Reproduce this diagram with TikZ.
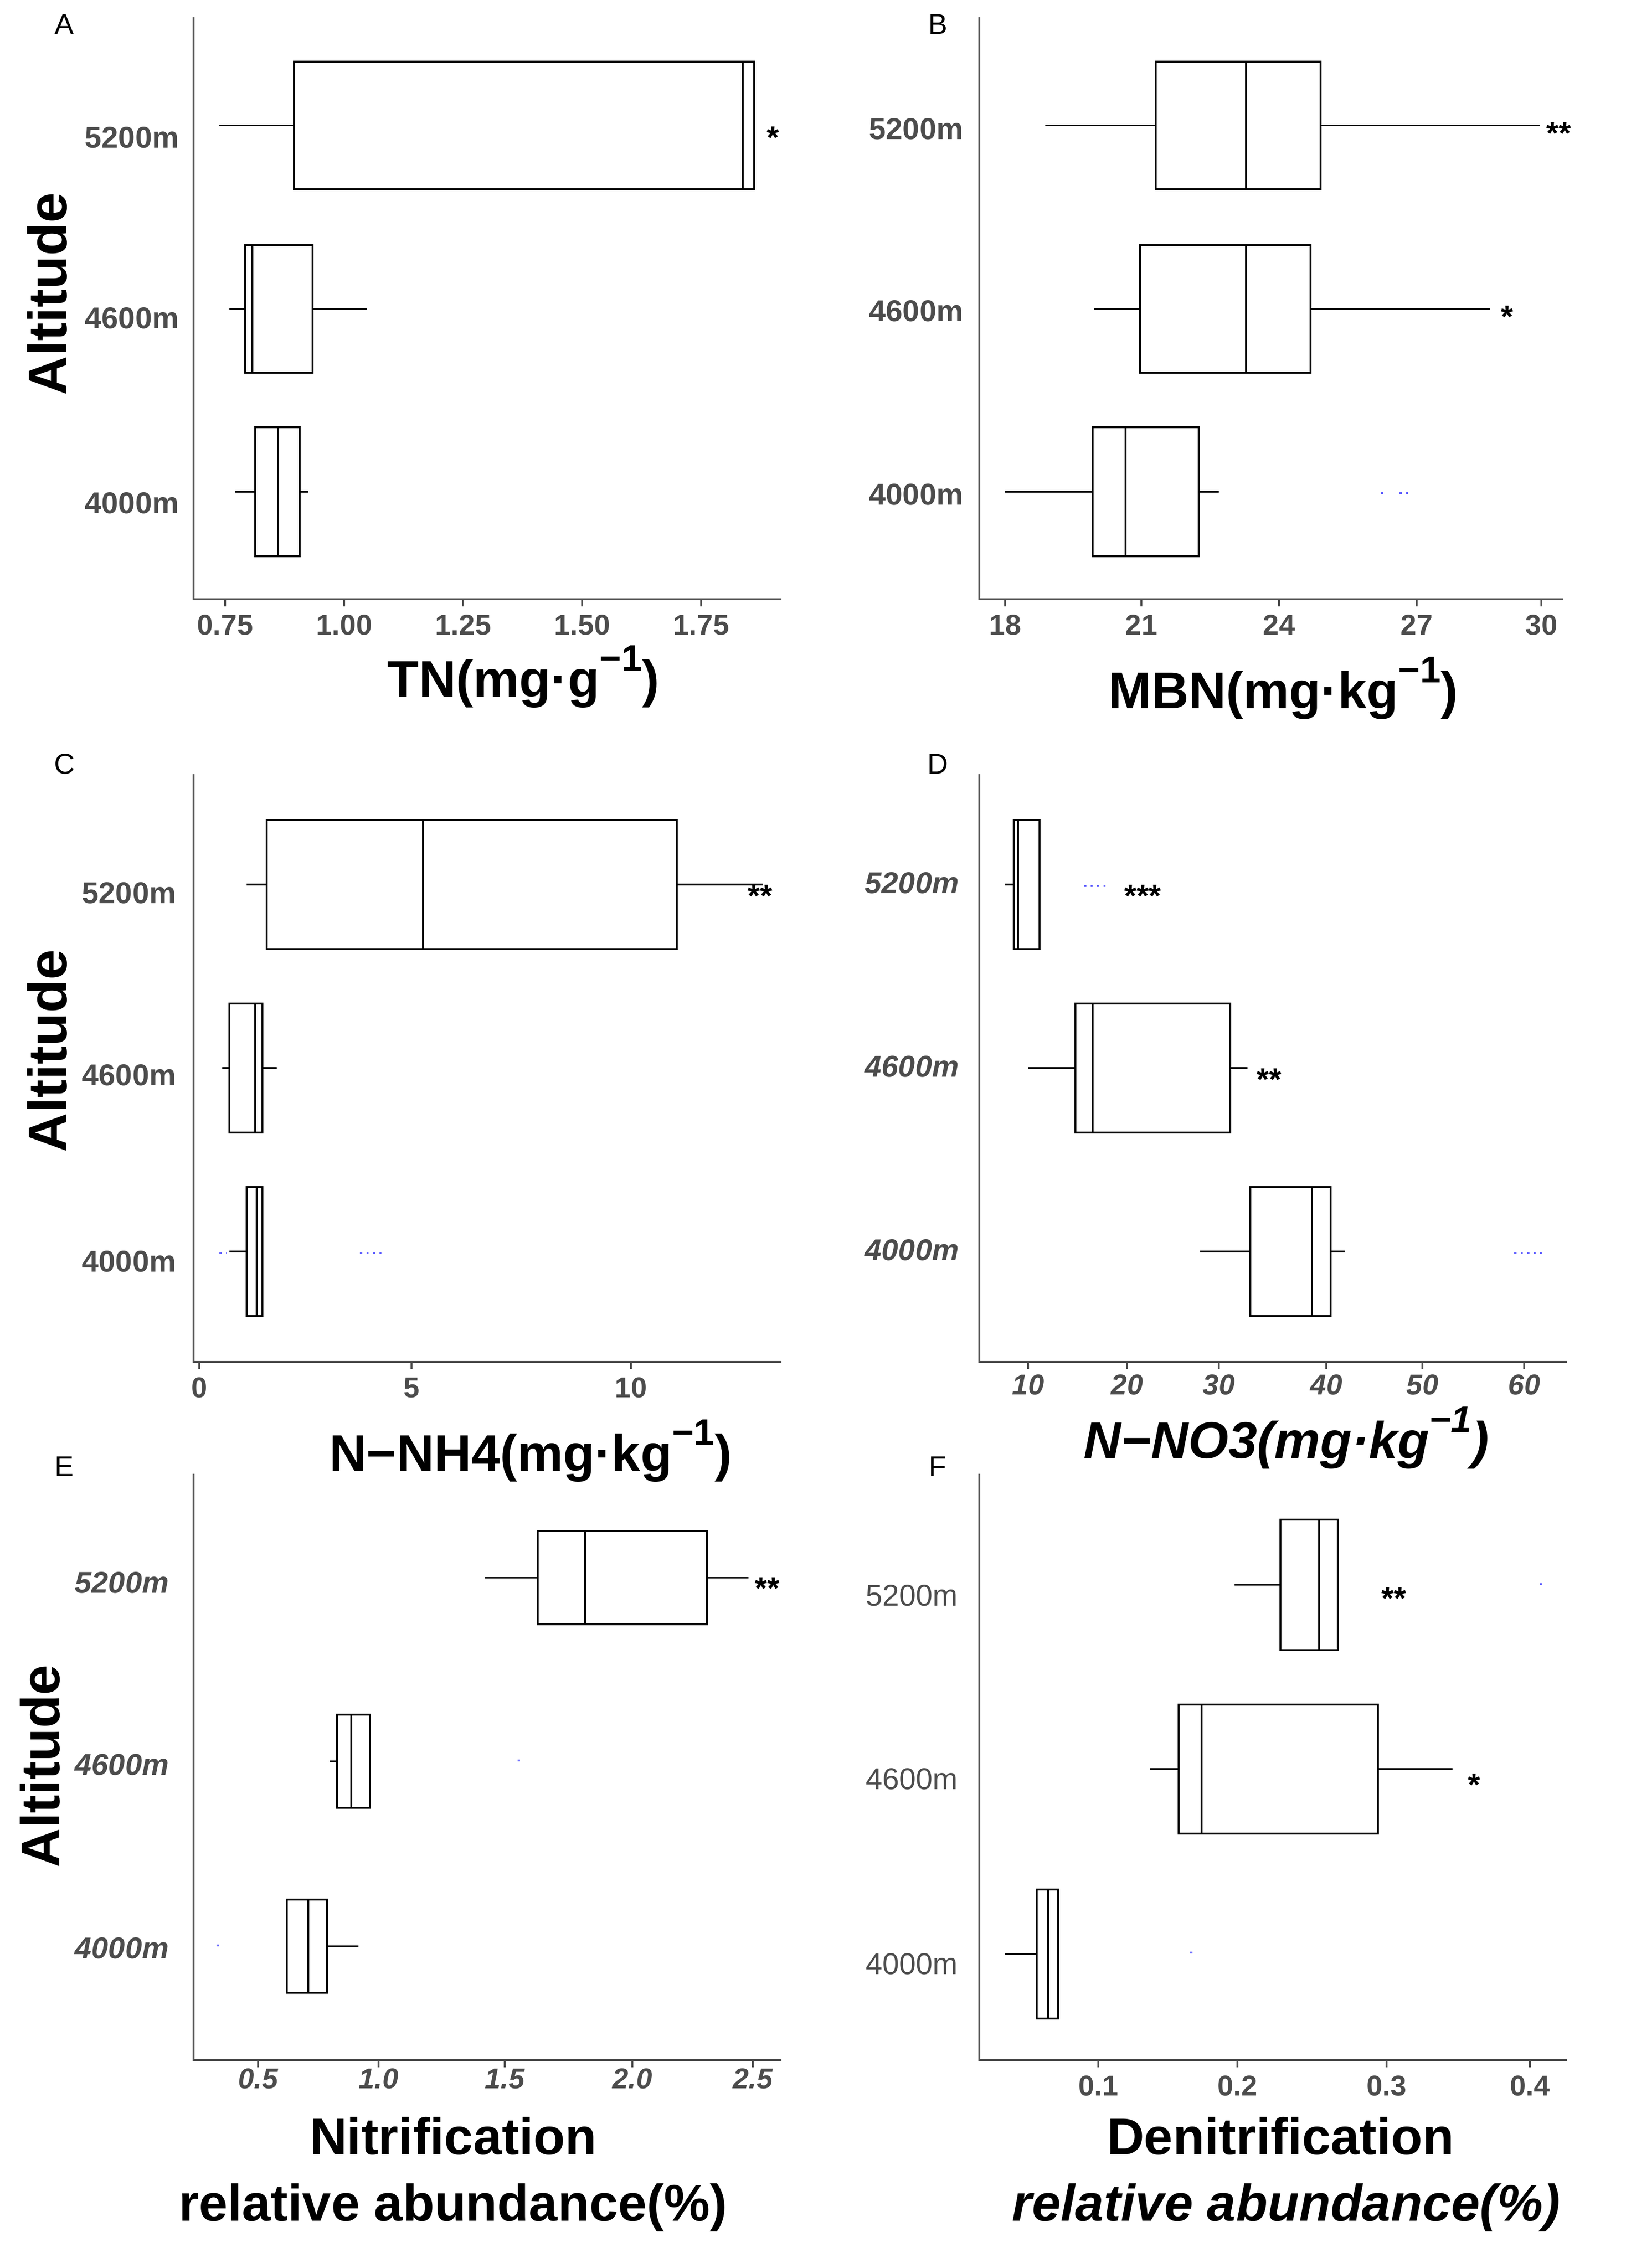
\documentclass[tikz,border=0pt]{standalone}
\usepackage{fontspec}
\setmainfont{Liberation Sans}
\newcommand\mysup[1]{\raisebox{0.5em}{\fontsize{26}{30}\selectfont #1}}
\begin{document}
\begin{tikzpicture}[x=1pt,y=-1pt,line width=1.1pt,
  ax/.style={draw=black!70,line width=1.2pt},
  tk/.style={font=\fontsize{20}{24}\selectfont\bfseries,text=black!70},
  yl/.style={font=\fontsize{21}{25}\selectfont\bfseries,text=black!70},
  xt/.style={font=\fontsize{36}{42}\selectfont\bfseries},
  alt/.style={font=\fontsize{38}{44}\selectfont\bfseries,rotate=90},
  pl/.style={font=\fontsize{20}{24}\selectfont},
  st/.style={font=\fontsize{22}{24}\selectfont\bfseries},
  od/.style={blue!60,line width=1.6pt,dash pattern=on 1.5pt off 3pt}]
\newcommand\mybox[7]{\draw (#3,{(#1+#2)/2}) -- (#4,{(#1+#2)/2}) (#6,{(#1+#2)/2}) -- (#7,{(#1+#2)/2});
  \draw (#4,#1) rectangle (#6,#2); \draw (#5,#1) -- (#5,#2);}
\useasboundingbox (0,0) rectangle (1134,1582);
% ---------- A
\draw[ax] (135,12) -- (135,418) -- (545,418);
\foreach \x/\l in {157/0.75,240/1.00,323/1.25,406/1.50,489/1.75}{\draw[ax] (\x,418)--(\x,423); \node[tk] at (\x,436) {\l};}
\node[pl] at (45,17) {A};
\node[alt] at (33,205) {Altitude};
\node[yl] at (92,96) {5200m}; \node[yl] at (92,222) {4600m}; \node[yl] at (92,351) {4000m};
\mybox{43}{132}{153}{205}{518}{526}{526}
\mybox{171}{260}{160}{171}{176}{218}{256}
\mybox{298}{388}{164}{178}{194}{209}{215}
\node[st] at (539,96) {*};
\node[xt] at (365,472) {TN(mg·g\mysup{−1})};
% ---------- B
\draw[ax] (683,12) -- (683,418) -- (1090,418);
\foreach \x/\l in {701/18,796/21,892/24,988/27,1075/30}{\draw[ax] (\x,418)--(\x,423); \node[tk] at (\x,436) {\l};}
\node[pl] at (654,17) {B};
\node[yl] at (639,90) {5200m}; \node[yl] at (639,217) {4600m}; \node[yl] at (639,345) {4000m};
\mybox{43}{132}{729}{806}{869}{921}{1074}
\mybox{171}{260}{763}{795}{869}{914}{1039}
\mybox{298}{388}{701}{762}{785}{836}{850}
\draw[od] (963,344) -- (967,344) (976,344)--(983,344);
\node[st] at (1087,93) {**}; \node[st] at (1051,221) {*};
\node[xt] at (895,480) {MBN(mg·kg\mysup{−1})};
% ---------- C
\draw[ax] (135,540) -- (135,950) -- (545,950);
\foreach \x/\l in {139/0,287/5,440/10}{\draw[ax] (\x,950)--(\x,955); \node[tk] at (\x,968) {\l};}
\node[pl] at (45,533) {C};
\node[alt] at (33,733) {Altitude};
\node[yl] at (90,623) {5200m}; \node[yl] at (90,750) {4600m}; \node[yl] at (90,880) {4000m};
\mybox{572}{662}{172}{186}{295}{472}{532}
\mybox{700}{790}{155}{160}{178}{183}{193}
\mybox{828}{918}{160}{172}{179}{183}{183}
\draw[od] (153,874)--(158,874) (251,874)--(268,874);
\node[st] at (530,625) {**};
\node[xt] at (370,1012) {N−NH4(mg·kg\mysup{−1})};
% ---------- D
\draw[ax] (683,540) -- (683,950) -- (1093,950);
\foreach \x/\l in {717/10,786/20,850/30,925/40,992/50,1063/60}{\draw[ax] (\x,950)--(\x,955); \node[tk,font=\fontsize{20}{24}\selectfont\bfseries\itshape] at (\x,966) {\l};}
\node[pl] at (654,533) {D};
\node[yl,font=\fontsize{21}{25}\selectfont\bfseries\itshape] at (636,616) {5200m};
\node[yl,font=\fontsize{21}{25}\selectfont\bfseries\itshape] at (636,744) {4600m};
\node[yl,font=\fontsize{21}{25}\selectfont\bfseries\itshape] at (636,872) {4000m};
\mybox{572}{662}{701}{707}{710}{725}{725}
\mybox{700}{790}{717}{750}{762}{858}{870}
\mybox{828}{918}{837}{872}{915}{928}{938}
\draw[od] (756,618)--(774,618) (1056,874)--(1077,874);
\node[st] at (797,625) {***}; \node[st] at (885,753) {**};
\node[xt,font=\fontsize{36}{42}\selectfont\bfseries\itshape] at (897,1003) {N−NO3(mg·kg\mysup{−1})};
% ---------- E
\draw[ax] (135,1028) -- (135,1437) -- (545,1437);
\foreach \x/\l in {180/0.5,264/1.0,352/1.5,441/2.0,525/2.5}{\draw[ax] (\x,1437)--(\x,1442); \node[tk,font=\fontsize{20}{24}\selectfont\bfseries\itshape] at (\x,1450) {\l};}
\node[pl] at (45,1023) {E};
\node[alt] at (28,1232) {Altitude};
\node[yl,font=\fontsize{21}{25}\selectfont\bfseries\itshape] at (85,1104) {5200m};
\node[yl,font=\fontsize{21}{25}\selectfont\bfseries\itshape] at (85,1231) {4600m};
\node[yl,font=\fontsize{21}{25}\selectfont\bfseries\itshape] at (85,1359) {4000m};
\mybox{1068}{1133}{338}{375}{408}{493}{522}
\mybox{1196}{1261}{230}{235}{245}{258}{258}
\mybox{1325}{1390}{200}{200}{215}{228}{250}
\draw[od] (361,1228)--(363,1228) (151,1357)--(153,1357);
\node[st] at (535,1108) {**};
\node[xt] at (316,1490) {Nitrification};
\node[xt] at (316,1540) {relative abundance(\%)};
% ---------- F
\draw[ax] (683,1028) -- (683,1437) -- (1093,1437);
\foreach \x/\l in {766/0.1,863/0.2,967/0.3,1067/0.4}{\draw[ax] (\x,1437)--(\x,1442); \node[tk] at (\x,1455) {\l};}
\node[pl] at (654,1023) {F};
\node[yl,font=\fontsize{21}{25}\selectfont] at (636,1113) {5200m};
\node[yl,font=\fontsize{21}{25}\selectfont] at (636,1241) {4600m};
\node[yl,font=\fontsize{21}{25}\selectfont] at (636,1370) {4000m};
\mybox{1060}{1151}{861}{893}{920}{933}{933}
\mybox{1189}{1279}{802}{822}{838}{961}{1013}
\mybox{1318}{1408}{701}{723}{731}{738}{738}
\draw[od] (1074,1105)--(1076,1105) (830,1362)--(832,1362);
\node[st] at (972,1115) {**}; \node[st] at (1028,1245) {*};
\node[xt] at (893,1490) {Denitrification};
\node[xt,font=\fontsize{36}{42}\selectfont\bfseries\itshape] at (897,1540) {relative abundance(\%)};
\end{tikzpicture}
\end{document}
